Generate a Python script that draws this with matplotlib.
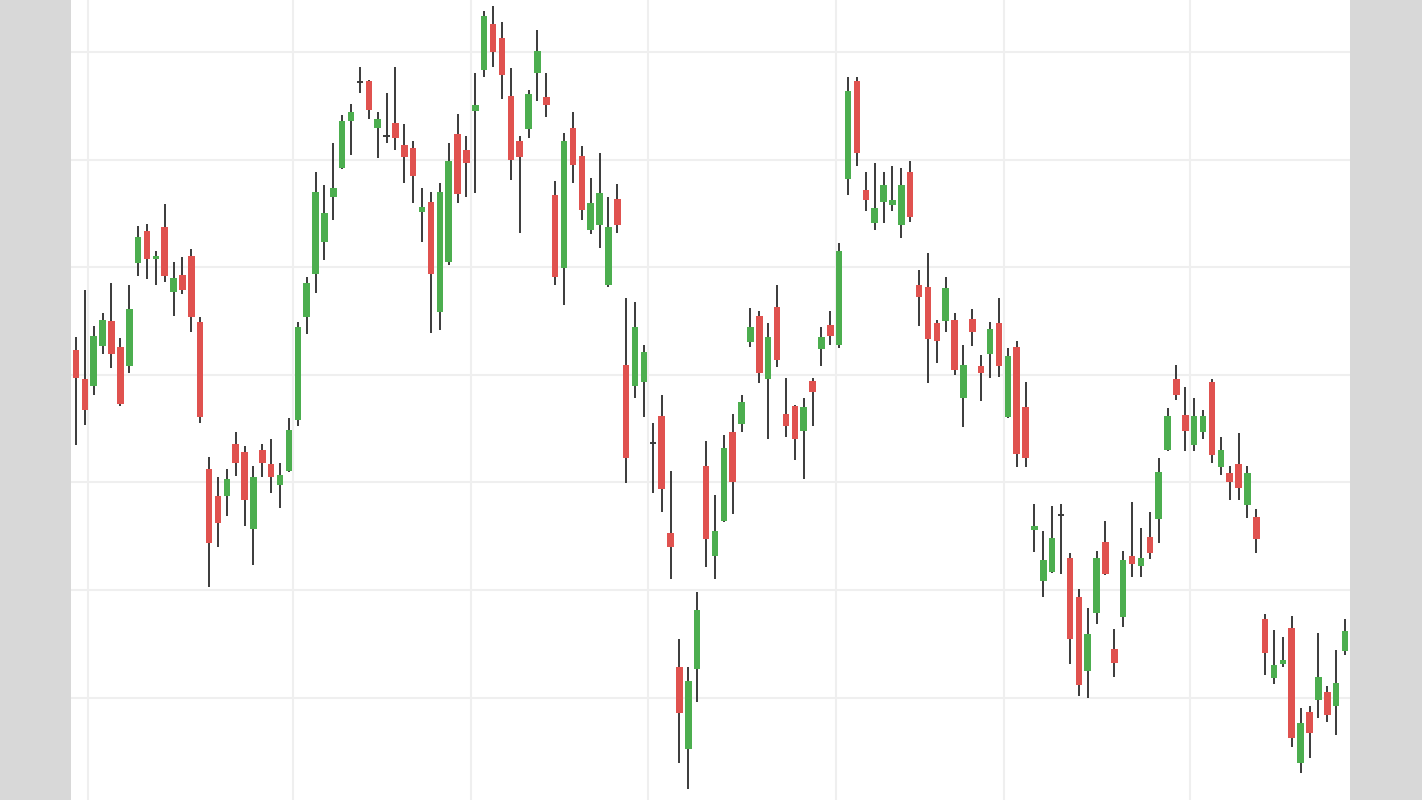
import numpy as np
import matplotlib
matplotlib.use("Agg")
import matplotlib.pyplot as plt

# OHLC series (arbitrary price units; unlabeled chart)
opens = [42.3, 39.6, 39.0, 42.7, 45.0, 42.6, 40.8, 50.4, 53.4, 50.8,
         53.7, 47.7, 49.3, 51.0, 44.9, 31.2, 28.7, 28.7, 33.6, 32.8,
         25.7, 33.0, 31.7, 29.8, 31.1, 35.8, 45.4, 49.4, 52.3, 56.5,
         59.2, 63.6, 67.2, 67.3, 62.9, 62.2, 63.4, 61.4, 61.1, 55.1,
         56.1, 45.8, 50.5, 62.4, 60.9, 64.5, 68.3, 72.6, 71.3, 65.9,
         61.7, 62.8, 68.0, 65.8, 56.7, 49.9, 62.9, 60.3, 53.5, 53.9,
         48.3, 56.3, 40.9, 39.0, 39.3, 33.7, 36.2, 25.3, 12.8, 5.2,
         12.7, 31.5, 23.2, 26.4, 34.7, 35.4, 43.0, 45.5, 39.6, 46.3,
         36.4, 37.1, 34.8, 39.4, 42.4, 44.6, 42.8, 58.2, 67.3, 57.2,
         54.1, 56.1, 55.8, 53.9, 58.8, 48.3, 48.2, 44.8, 45.0, 45.1,
         37.8, 45.2, 40.8, 41.9, 44.8, 36.1, 42.6, 37.0, 25.6, 20.8,
         21.7, 27.0, 23.0, 19.3, 12.5, 17.9, 24.5, 14.5, 17.5, 23.2,
         22.2, 24.9, 26.6, 33.0, 39.6, 36.3, 33.5, 34.7, 39.3, 31.4,
         30.9, 31.7, 27.9, 26.8, 17.3, 11.8, 13.1, 16.5, 3.9, 8.7,
         9.8, 10.5, 9.2, 14.3]
highs = [43.5, 47.9, 44.5, 45.7, 48.5, 43.4, 48.3, 53.8, 54.0, 51.5,
         55.9, 50.5, 50.9, 51.7, 45.4, 32.4, 30.5, 31.2, 34.7, 33.4,
         31.5, 33.6, 34.0, 31.8, 36.0, 44.9, 49.1, 58.8, 57.6, 61.5,
         64.1, 65.2, 68.6, 67.4, 64.4, 66.2, 68.6, 63.3, 61.7, 57.4,
         57.0, 57.8, 61.5, 64.2, 62.2, 68.0, 73.8, 74.3, 72.8, 68.5,
         62.2, 66.5, 72.0, 68.0, 58.0, 62.5, 64.4, 61.3, 58.3, 60.6,
         56.5, 57.7, 47.1, 46.8, 42.8, 35.5, 38.1, 31.1, 15.4, 12.8,
         19.8, 33.8, 28.8, 34.4, 36.4, 38.1, 46.2, 45.9, 44.8, 48.3,
         39.7, 37.2, 37.8, 39.7, 44.4, 45.9, 52.2, 67.7, 67.7, 58.8,
         59.7, 58.8, 59.4, 59.2, 59.9, 49.7, 51.3, 45.1, 49.1, 45.7,
         42.8, 46.1, 41.8, 44.9, 47.1, 42.5, 43.1, 39.3, 28.0, 25.5,
         27.8, 28.0, 23.4, 20.1, 18.3, 23.6, 26.4, 16.4, 23.6, 28.2,
         25.8, 27.2, 32.3, 36.9, 40.9, 38.9, 37.8, 36.7, 39.6, 34.2,
         31.5, 34.6, 31.5, 27.5, 17.8, 16.3, 15.6, 17.6, 9.0, 9.2,
         16.0, 11.1, 14.4, 17.3]
lows = [33.5, 35.3, 38.1, 41.9, 40.6, 37.1, 40.2, 49.2, 48.9, 48.3,
        48.6, 45.5, 47.5, 44.0, 35.5, 20.3, 24.0, 26.9, 30.6, 25.9,
        22.3, 30.5, 29.0, 27.6, 31.0, 35.2, 43.8, 47.6, 50.7, 54.4,
        59.1, 60.4, 66.2, 63.8, 60.1, 61.5, 60.9, 57.8, 56.0, 52.3,
        43.9, 44.2, 50.2, 56.0, 56.5, 56.9, 67.7, 68.6, 65.6, 58.1,
        53.2, 62.0, 65.4, 64.0, 48.3, 46.5, 57.8, 54.4, 53.1, 51.8,
        48.2, 53.2, 29.9, 37.8, 36.1, 29.0, 27.2, 21.0, 3.9, 1.5,
        9.6, 22.1, 21.0, 26.3, 27.1, 34.7, 42.6, 39.2, 34.0, 40.7,
        34.2, 32.1, 30.3, 35.2, 40.8, 42.8, 42.5, 56.7, 59.4, 55.2,
        53.5, 54.1, 55.2, 52.7, 54.2, 44.5, 39.2, 41.1, 44.0, 40.0,
        35.1, 42.7, 37.6, 39.7, 39.8, 36.0, 31.4, 31.4, 23.5, 19.3,
        21.6, 21.5, 13.1, 10.1, 10.0, 16.8, 21.4, 11.9, 16.6, 21.2,
        21.2, 22.9, 24.4, 32.9, 37.7, 32.9, 32.9, 34.0, 31.8, 30.7,
        28.4, 28.4, 26.7, 23.4, 12.1, 11.3, 12.8, 5.4, 3.0, 4.4,
        8.1, 7.7, 6.5, 14.0]
closes = [39.7, 36.7, 43.6, 45.1, 41.9, 37.3, 46.1, 52.8, 50.8, 51.0,
          49.2, 49.0, 47.9, 45.4, 36.1, 24.4, 26.2, 30.3, 31.8, 28.4,
          30.5, 31.8, 30.5, 30.7, 34.9, 44.4, 48.5, 57.0, 55.0, 57.4,
          63.6, 64.4, 67.2, 64.6, 63.8, 62.2, 62.0, 60.2, 58.5, 55.6,
          49.4, 57.0, 59.9, 56.8, 59.7, 65.1, 73.3, 70.0, 67.9, 60.0,
          60.2, 66.1, 70.1, 65.1, 49.1, 61.7, 59.5, 55.3, 56.0, 56.9,
          53.7, 53.9, 32.3, 44.4, 42.1, 33.7, 29.4, 24.0, 8.6, 11.5,
          18.1, 24.7, 25.5, 33.2, 30.0, 37.5, 44.4, 40.2, 43.5, 41.4,
          35.2, 34.0, 37.0, 38.4, 43.5, 43.6, 51.5, 66.4, 60.6, 56.2,
          55.5, 57.6, 56.2, 57.6, 54.7, 47.2, 43.3, 43.1, 48.1, 40.4,
          40.9, 44.0, 40.2, 44.3, 40.8, 41.7, 32.6, 32.3, 25.9, 22.8,
          24.8, 27.0, 15.4, 11.2, 15.9, 23.0, 21.5, 13.2, 22.8, 22.4,
          23.0, 23.4, 31.0, 36.2, 38.1, 34.8, 36.2, 36.2, 32.5, 33.0,
          30.0, 29.5, 30.9, 24.7, 14.1, 13.0, 13.5, 6.2, 7.6, 6.7,
          11.9, 8.4, 11.4, 16.2]

# Period boundaries (in bar-index units) and price gridlines
period_breaks = [1.4, 24.5, 44.5, 64.5, 85.6, 104.6, 125.5]
price_grid = [10, 20, 30, 40, 50, 60, 70]

UP = "#4cae4f"
DOWN = "#e0524f"
WICK = "#3a3a3a"

o = np.array(opens); h = np.array(highs); l = np.array(lows); c = np.array(closes)
n = len(o)
x = np.arange(n)

fig = plt.figure(figsize=(14.22, 8.0), dpi=100, facecolor="#d8d8d8")
ax = fig.add_axes([71 / 1422, 0, 1279 / 1422, 1])
ax.set_facecolor("white")

for v in period_breaks:
    ax.axvline(v, color="#efefef", lw=1.5, zorder=0)
for p in price_grid:
    ax.axhline(p, color="#efefef", lw=1.5, zorder=0)

ax.vlines(x, l, h, color=WICK, lw=1.4, zorder=1)

up = c > o
down = c < o
flat = c == o
w = 0.74
ax.bar(x[up], (c - o)[up], bottom=o[up], width=w, color=UP, zorder=2, linewidth=0)
ax.bar(x[down], (o - c)[down], bottom=c[down], width=w, color=DOWN, zorder=2, linewidth=0)
ax.hlines(o[flat], x[flat] - w / 2, x[flat] + w / 2, color=WICK, lw=1.4, zorder=2)

ax.set_xlim(-0.56, 143.56)
ax.set_ylim(0.48, 74.83)
ax.set_xticks([]); ax.set_yticks([])
for s in ax.spines.values():
    s.set_visible(False)

fig.savefig("out.png", dpi=100, facecolor=fig.get_facecolor())
